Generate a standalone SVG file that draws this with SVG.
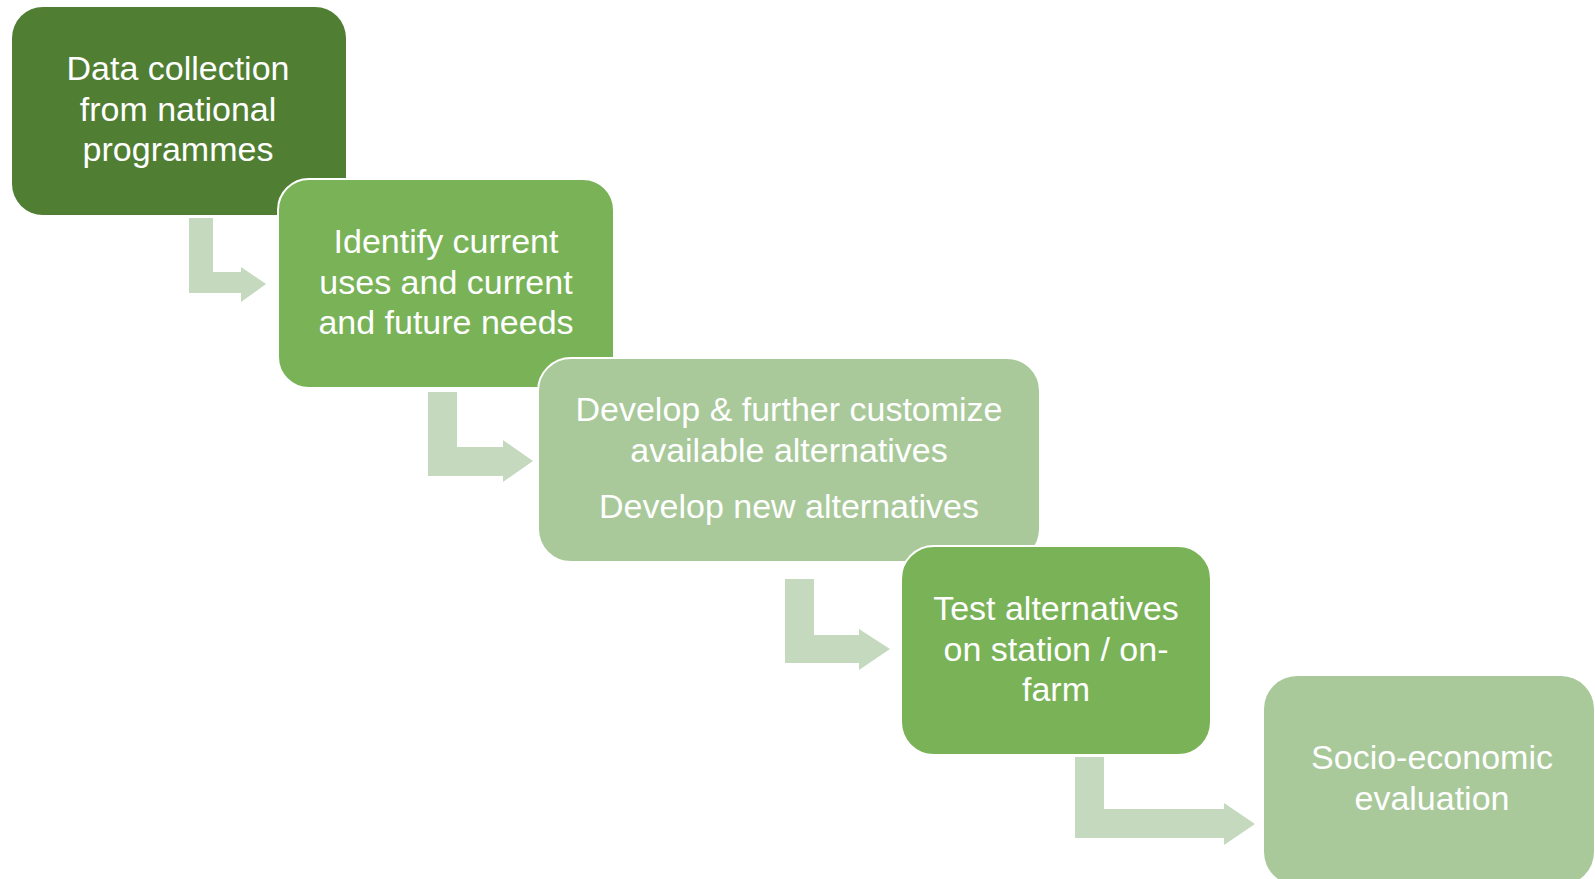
<svg xmlns="http://www.w3.org/2000/svg" width="1595" height="879" viewBox="0 0 1595 879">
<style>
.t{font-family:"Liberation Sans",Arial,sans-serif;font-size:34px;fill:#ffffff;text-anchor:middle}
.b{stroke:#ffffff;stroke-width:2}
.dark{fill:#507E32}
.mid{fill:#79B257}
.light{fill:#A9C99A}
.arr{fill:#C5D9BE}
</style>
<rect width="1595" height="879" fill="#ffffff"/>
<g id="connectors">
<path class="arr" d="M189,218 H213 V272 H241 V267 L266,284 L241,302 V293 H189 Z"/>
<path class="arr" d="M428,392 H457 V447 H503 V440 L533,461 L503,482 V476 H428 Z"/>
<path class="arr" d="M785,579 H814 V635 H859 V629 L890,649 L859,670 V663 H785 Z"/>
<path class="arr" d="M1075,757 H1104 V809 H1224 V803 L1255,824 L1224,845 V838 H1075 Z"/>
</g>
<g id="node1">
<rect class="dark" x="12" y="7" width="334" height="208" rx="31"/>
<text class="t" x="178" y="80">Data collection</text>
<text class="t" x="178" y="121">from national</text>
<text class="t" x="178" y="161">programmes</text>
</g>
<g id="node2">
<rect class="mid b" x="278" y="179" width="336" height="209" rx="31"/>
<text class="t" x="446" y="253">Identify current</text>
<text class="t" x="446" y="294">uses and current</text>
<text class="t" x="446" y="334">and future needs</text>
</g>
<g id="node3">
<rect class="light b" x="538" y="358" width="502" height="204" rx="33"/>
<text class="t" x="789" y="421">Develop &amp; further customize</text>
<text class="t" x="789" y="462">available alternatives</text>
<text class="t" x="789" y="518">Develop new alternatives</text>
</g>
<g id="node4">
<rect class="mid b" x="901" y="546" width="310" height="209" rx="33"/>
<text class="t" x="1056" y="620">Test alternatives</text>
<text class="t" x="1056" y="661">on station / on-</text>
<text class="t" x="1056" y="701">farm</text>
</g>
<g id="node5">
<rect class="light" x="1264" y="676" width="330" height="209" rx="33"/>
<text class="t" x="1432" y="769">Socio-economic</text>
<text class="t" x="1432" y="810">evaluation</text>
</g>
</svg>
